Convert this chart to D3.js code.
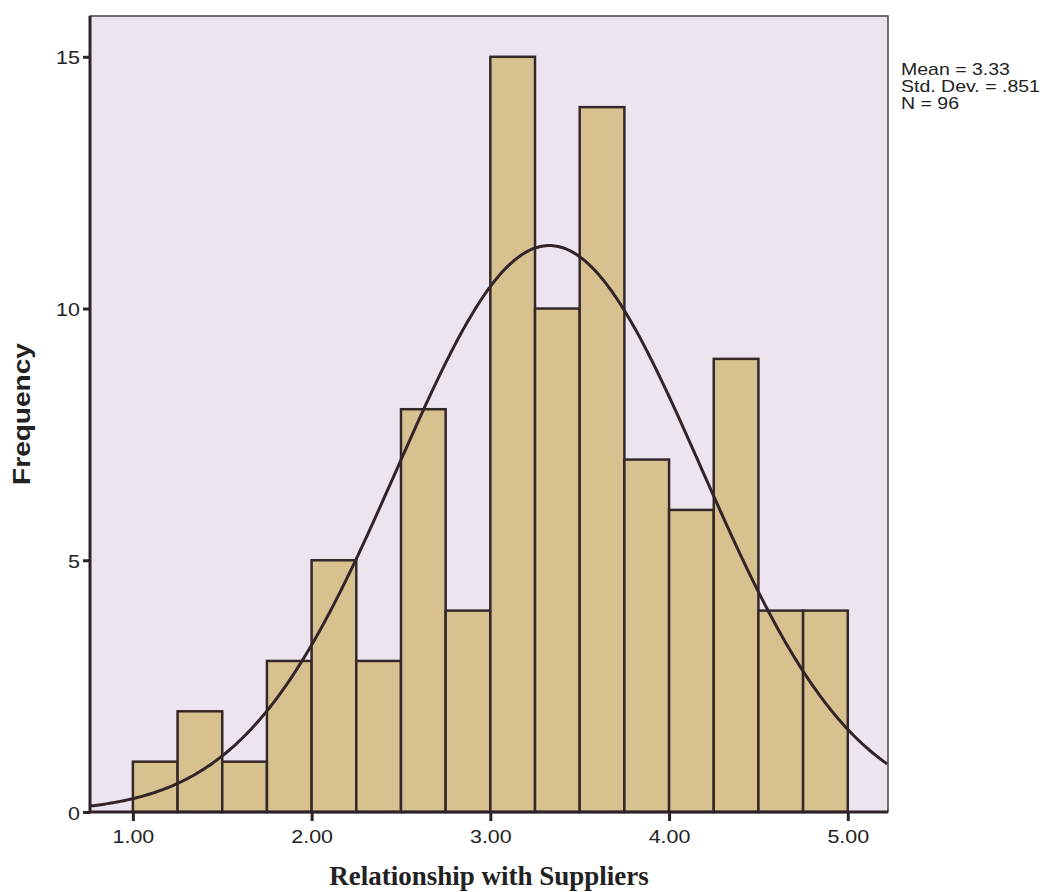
<!DOCTYPE html>
<html>
<head>
<meta charset="utf-8">
<script src="https://cdn.jsdelivr.net/npm/d3@7"></script>
<style>
  body { margin: 0; background: #fff; }
</style>
</head>
<body>
<div id="viz"></div>
<script>
// data
var binStarts = [1.00, 1.25, 1.50, 1.75, 2.00, 2.25, 2.50, 2.75,
  3.00, 3.25, 3.50, 3.75, 4.00, 4.25, 4.50, 4.75];
var counts = [1, 2, 1, 3, 5, 3, 8, 4, 15, 10, 14, 7, 6, 9, 4, 4];
var binWidth = 0.25;
var xTicks = [1, 2, 3, 4, 5];
var yTicks = [0, 5, 10, 15];
var statLabels = ["Mean = 3.33", "Std. Dev. = .851", "N = 96"];
var mean = 3.33, sd = 0.851, n = 96;

// layout
var plotLeft = 90, plotRight = 888, plotTop = 16, plotBottom = 812;
var sansFont = "Liberation Sans, Arial, sans-serif";

var svg = d3.select("#viz")
  .append("svg")
  .attr("width", 1049)
  .attr("height", 892);

var x = d3.scaleLinear().domain([0.76, 5.225]).range([plotLeft, plotRight]);
var y = d3.scaleLinear().domain([0, 15.81]).range([plotBottom, plotTop]);

// plot background
svg.append("rect")
  .attr("x", plotLeft).attr("y", plotTop)
  .attr("width", plotRight - plotLeft).attr("height", plotBottom - plotTop)
  .attr("fill", "#ece4ef")
  .attr("stroke", "#4a3e44")
  .attr("stroke-width", 1.5);

// bars
svg.append("g").selectAll("rect")
  .data(counts)
  .enter()
  .append("rect")
  .attr("x", function(d, i) { return x(binStarts[i]); })
  .attr("y", function(d) { return y(d); })
  .attr("width", function(d, i) { return x(binStarts[i] + binWidth) - x(binStarts[i]); })
  .attr("height", function(d) { return plotBottom - y(d); })
  .attr("fill", "#d7c28f")
  .attr("stroke", "#35282a")
  .attr("stroke-width", 2.5);

// normal curve fitted from the stats shown
var curvePts = d3.range(0.76, 5.226, 0.01).map(function(v) {
  var z = (v - mean) / sd;
  return [v, n * binWidth * Math.exp(-0.5 * z * z) / (sd * Math.sqrt(2 * Math.PI))];
});
svg.append("path")
  .datum(curvePts)
  .attr("d", d3.line()
    .x(function(d) { return x(d[0]); })
    .y(function(d) { return y(d[1]); }))
  .attr("fill", "none")
  .attr("stroke", "#33242a")
  .attr("stroke-width", 3);

// axes
var xAxis = svg.append("g")
  .attr("transform", "translate(0," + plotBottom + ")")
  .call(d3.axisBottom(x).tickValues(xTicks).tickSize(9).tickPadding(4)
    .tickFormat(d3.format(".2f")));
xAxis.select(".domain").attr("d", "M" + plotLeft + ",0H" + plotRight);

var yAxis = svg.append("g")
  .attr("transform", "translate(" + plotLeft + ",0)")
  .call(d3.axisLeft(y).tickValues(yTicks).tickSize(7).tickPadding(3));
yAxis.select(".domain").attr("d", "M0," + plotTop + "V" + plotBottom);

[xAxis, yAxis].forEach(function(ax) {
  ax.select(".domain").attr("stroke", "#2e2428").attr("stroke-width", 3);
  ax.selectAll(".tick line").attr("stroke", "#2e2428").attr("stroke-width", 3);
  ax.selectAll(".tick text")
    .attr("fill", "#222")
    .attr("font-family", sansFont)
    .attr("font-size", "19px");
});

// the scan is stretched sideways, so widen the tick labels a bit
xAxis.selectAll(".tick text")
  .attr("y", null).attr("dy", null)
  .attr("transform", "translate(0,31) scale(1.13,1)");
yAxis.selectAll(".tick text")
  .attr("x", null).attr("dy", null)
  .attr("transform", "translate(-10,7) scale(1.13,1)");

// axis titles
svg.append("text")
  .text("Frequency")
  .attr("transform", "translate(30,414) rotate(-90) scale(1.22,1)")
  .attr("text-anchor", "middle")
  .attr("font-family", sansFont)
  .attr("font-weight", "bold")
  .attr("font-size", "23px")
  .attr("fill", "#222");

svg.append("text")
  .text("Relationship with Suppliers")
  .attr("x", 489)
  .attr("y", 885)
  .attr("text-anchor", "middle")
  .attr("font-family", "Liberation Serif, Times New Roman, serif")
  .attr("font-weight", "bold")
  .attr("font-size", "27px")
  .attr("fill", "#222");

// stats box text
svg.append("g").selectAll("text")
  .data(statLabels)
  .enter()
  .append("text")
  .text(function(d) { return d; })
  .attr("transform", function(d, i) {
    return "translate(901," + (75 + i * 17) + ") scale(1.22,1)";
  })
  .attr("font-family", sansFont)
  .attr("font-size", "16px")
  .attr("fill", "#222");
</script>
</body>
</html>
